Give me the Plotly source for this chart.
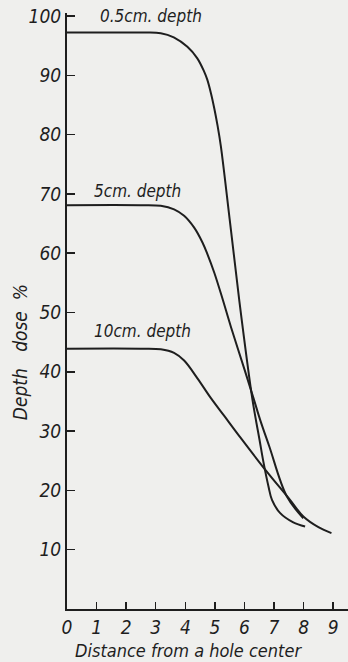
import plotly.graph_objects as go

# Data (distance from hole center, depth dose %)
x_05 = [0, 2.49, 3.17, 3.61, 4.07, 4.40, 4.63, 4.74, 4.86, 4.98, 5.09, 5.2, 5.5, 5.82, 6.27, 6.51, 6.64, 6.81, 6.93, 7.2, 7.65, 8.05]
y_05 = [97.2, 97.2, 97.1, 96.4, 94.8, 92.9, 90.7, 89.3, 87.1, 84.4, 81.5, 78.1, 65.7, 52.2, 35.3, 28.5, 24.8, 20.7, 18.4, 16.2, 14.6, 13.9]

x_5 = [0, 2.49, 3.17, 3.62, 3.96, 4.30, 4.58, 4.75, 4.98, 5.24, 5.54, 6.0, 6.32, 6.53, 6.84, 7.43, 7.99]
y_5 = [68.1, 68.1, 68.0, 67.4, 66.3, 64.3, 61.8, 59.8, 56.7, 52.6, 47.6, 40.4, 35.3, 31.9, 27.4, 19.0, 15.3]

x_10 = [0, 2.49, 3.17, 3.62, 3.96, 4.41, 4.86, 5.31, 5.88, 6.7, 7.54, 7.99, 8.5, 8.94]
y_10 = [43.9, 43.9, 43.8, 43.2, 41.9, 38.9, 35.6, 32.6, 28.8, 23.5, 18.4, 15.6, 13.8, 12.8]

curve_labels = ["0.5cm. depth", "5cm. depth", "10cm. depth"]
label_x = [1.04, 0.83, 0.83]
label_y = [100.0, 70.5, 46.8]

x_ticks = [0, 1, 2, 3, 4, 5, 6, 7, 8, 9]
y_ticks = [10, 20, 30, 40, 50, 60, 70, 80, 90, 100]

x_title = "Distance from a hole center"
y_title = "Depth\u00a0\u00a0\u00a0dose\u00a0\u00a0%"

FONT = "Liberation Sans Narrow, DejaVu Sans Condensed, Liberation Sans, sans-serif"
INK = "#1e1e1e"

fig = go.Figure()
for xs, ys in [(x_05, y_05), (x_5, y_5), (x_10, y_10)]:
    fig.add_trace(go.Scatter(
        x=xs, y=ys, mode="lines",
        line=dict(color=INK, width=2, shape="spline", smoothing=1.0),
        showlegend=False, hoverinfo="skip",
    ))

for t, lx, ly in zip(curve_labels, label_x, label_y):
    fig.add_annotation(x=lx, y=ly, text=t, showarrow=False, xanchor="left", yanchor="middle",
                       font=dict(family=FONT, size=17, color=INK, style="italic"))

fig.add_annotation(xref="paper", yref="paper", x=0.431, y=-0.069, text=x_title, showarrow=False,
                   xanchor="center", yanchor="middle",
                   font=dict(family=FONT, size=18, color=INK, style="italic"))
fig.add_annotation(xref="paper", yref="paper", x=-0.167, y=0.431, text=y_title, showarrow=False,
                   textangle=-90, xanchor="center", yanchor="middle",
                   font=dict(family=FONT, size=19, color=INK, style="italic"))

fig.update_xaxes(range=[0, 9.5], tickvals=x_ticks, ticktext=[str(v) for v in x_ticks],
                 ticks="inside", ticklen=7, tickwidth=1.5, tickcolor=INK,
                 showline=True, linecolor=INK, linewidth=2, showgrid=False, zeroline=False,
                 tickfont=dict(family=FONT, size=19, color=INK, style="italic"))
fig.update_yaxes(range=[0, 100.5], tickvals=y_ticks, ticktext=[str(v) for v in y_ticks],
                 ticks="inside", ticklen=8, tickwidth=1.5, tickcolor=INK,
                 showline=True, linecolor=INK, linewidth=2, showgrid=False, zeroline=False,
                 tickfont=dict(family=FONT, size=19, color=INK, style="italic"))

fig.update_layout(
    width=348, height=662,
    margin=dict(l=67, r=0, t=13, b=53, pad=0),
    paper_bgcolor="#efefed", plot_bgcolor="#efefed",
)

fig.write_html("out.html", config={"displayModeBar": False, "staticPlot": True},
               post_script="document.body.style.margin='0';document.body.style.overflow='hidden';")
